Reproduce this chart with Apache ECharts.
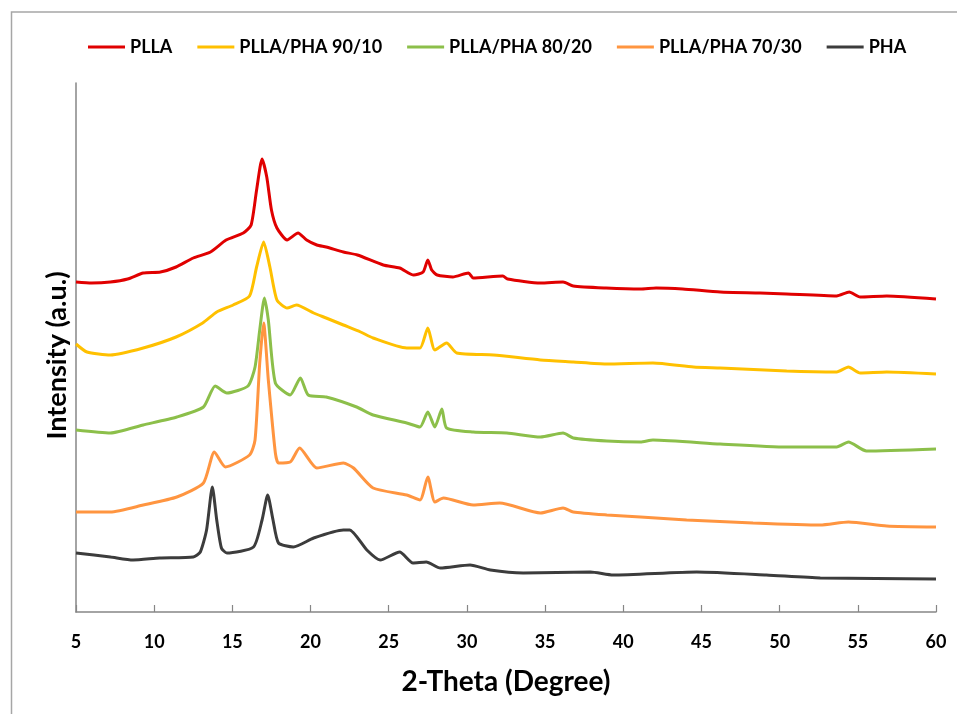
<!DOCTYPE html>
<html>
<head>
<meta charset="utf-8">
<title>XRD</title>
<script src="https://cdn.jsdelivr.net/npm/echarts@6/dist/echarts.min.js"></script>
<style>
  html, body { margin: 0; padding: 0; background: #fff; }
  #main { width: 957px; height: 714px; }
</style>
</head>
<body>
<div id="main"></div>
<script>
// 2-theta positions and intensities (a.u.)
const pllaX = [5, 6, 7.2, 8.3, 9.3, 10.4, 11.4, 12.5, 13.6, 14.6, 15.7, 16.2, 16.55, 16.9, 17.2, 17.5, 17.85, 18.5, 19.2, 19.75, 20.4, 21, 22.1, 23, 24.65, 25.7, 26.6, 27.2, 27.5, 27.75, 28.1, 29.1, 30.1, 30.4, 32.3, 32.6, 34.7, 36.15, 36.8, 38.9, 41.1, 42.1, 43.8, 46.2, 48.75, 50.45, 53.65, 54.45, 55.15, 56.85, 60];
const pllaY = [330, 329, 330, 333, 339, 340, 345, 354, 360, 372, 379, 387, 422, 453, 435, 402, 384, 372, 379, 372, 367, 365, 360, 357, 347, 344, 337, 340, 352, 342, 337, 335, 339, 334, 336, 333, 329, 330, 326, 324, 323, 324, 323, 320, 319, 318, 316, 320, 315, 316, 313];

const p9010X = [5, 5.7, 7.2, 9.3, 11.4, 13.1, 14, 15.05, 16.1, 16.55, 17, 17.4, 17.85, 18.5, 19.1, 20.2, 21, 22.1, 23.2, 24, 26.15, 27, 27.5, 27.95, 28.7, 29.35, 31.7, 34.7, 36.8, 38.9, 41.9, 44.5, 46.2, 50.45, 53.65, 54.4, 55.15, 56.85, 60];
const p9010Y = [268, 260, 257, 264, 275, 289, 300, 307, 316, 345, 370, 345, 312, 304, 307, 299, 294, 287, 280, 274, 264, 264, 284, 262, 269, 259, 257, 252, 250, 248, 249, 245, 244, 241, 240, 245, 239, 240, 238];

const p8020X = [5, 7.2, 9.3, 11.45, 13.15, 13.9, 14.65, 16, 16.45, 16.75, 17.05, 17.3, 17.75, 18.7, 19.35, 19.85, 21, 22.95, 24, 26.15, 27, 27.5, 27.95, 28.4, 28.7, 30.4, 32.55, 34.7, 36.15, 36.8, 38.95, 41.1, 41.9, 46.2, 50.45, 53.65, 54.4, 55.55, 60];
const p8020Y = [182, 179, 187, 195, 205, 226, 219, 226, 245, 282, 314, 292, 229, 217, 234, 217, 215, 205, 197, 189, 185, 200, 185, 203, 184, 180, 179, 175, 179, 174, 171, 170, 172, 168, 165, 165, 170, 161, 163];

const p7030X = [5, 7.2, 9.3, 11.45, 13.15, 13.85, 14.55, 16.1, 16.45, 16.75, 17, 17.3, 17.75, 17.95, 18.7, 19.3, 20.4, 22.1, 22.75, 24, 26.15, 27, 27.5, 27.95, 28.5, 30.4, 32.1, 34.7, 36.15, 36.8, 38.95, 41.1, 44.05, 48.3, 52.6, 54.4, 56.85, 60];
const p7030Y = [100, 100, 107, 115, 129, 160, 145, 157, 172, 249, 289, 232, 159, 149, 150, 164, 144, 149, 144, 124, 117, 112, 135, 110, 114, 107, 109, 99, 104, 100, 97, 95, 92, 89, 87, 90, 86, 85];

const phaX = [5, 7.2, 8.65, 10.35, 12.5, 12.95, 13.35, 13.72, 14, 14.3, 14.65, 16.35, 16.9, 17.26, 17.6, 17.95, 18.9, 20.2, 22.1, 22.5, 23.6, 24.45, 25.7, 26.55, 27.4, 28.3, 30.2, 31.5, 33.6, 37.9, 39.35, 44.7, 49.15, 52.6, 60];
const phaY = [59, 55, 52, 54, 55, 60, 82, 125, 92, 64, 59, 65, 92, 117, 92, 69, 65, 74, 82, 82, 62, 52, 60, 49, 50, 44, 47, 42, 39, 40, 37, 40, 37, 34, 33];

const seriesNames = ['PLLA', 'PLLA/PHA 90/10', 'PLLA/PHA 80/20', 'PLLA/PHA 70/30', 'PHA'];
const seriesColors = ['#e00000', '#ffc000', '#8cbf4a', '#ff9540', '#3c3c3c'];
const seriesX = [pllaX, p9010X, p8020X, p7030X, phaX];
const seriesY = [pllaY, p9010Y, p8020Y, p7030Y, phaY];

const FONT = 'Lato';

function pairs(xs, ys) {
  let out = [];
  for (let i = 0; i < xs.length; i++) {
    out.push([xs[i], ys[i]]);
  }
  return out;
}

const chart = echarts.init(document.getElementById('main'), null, { renderer: 'canvas' });

const option = {
  backgroundColor: '#ffffff',
  animation: false,
  color: seriesColors,
  graphic: [
    {
      type: 'rect',
      shape: { x: 11.5, y: 12, width: 1000, height: 800 },
      style: { fill: 'none', stroke: '#a6a6a6', lineWidth: 1.5 },
      silent: true
    }
  ],
  legend: {
    left: 83,
    top: 33,
    icon: 'rect',
    itemWidth: 37,
    itemHeight: 3,
    itemGap: 25,
    textStyle: { fontFamily: FONT, fontWeight: 'bold', fontSize: 18, color: '#000' },
    data: seriesNames
  },
  grid: { left: 76, right: 21, top: 83, bottom: 102 },
  xAxis: {
    type: 'value',
    min: 5,
    max: 60,
    interval: 5,
    name: '2-Theta (Degree)',
    nameLocation: 'middle',
    nameGap: 56,
    nameTextStyle: { fontFamily: FONT, fontWeight: 'bold', fontSize: 28, color: '#000' },
    axisLine: { lineStyle: { color: '#868686', width: 1.5 } },
    axisTick: { inside: true, length: 7, lineStyle: { color: '#868686', width: 1.2 } },
    axisLabel: { margin: 21, fontFamily: FONT, fontWeight: 'bold', fontSize: 18, color: '#000' },
    splitLine: { show: false }
  },
  yAxis: {
    type: 'value',
    min: 0,
    max: 529,
    name: 'Intensity (a.u.)',
    nameLocation: 'middle',
    nameGap: 5,
    nameTextStyle: { fontFamily: FONT, fontWeight: 'bold', fontSize: 27, color: '#000', padding: [0, 16, 0, 0] },
    axisLine: { show: true, lineStyle: { color: '#868686', width: 1.5 } },
    axisTick: { show: false },
    axisLabel: { show: false },
    splitLine: { show: false }
  },
  series: seriesNames.map((name, i) => ({
    name: name,
    type: 'line',
    data: pairs(seriesX[i], seriesY[i]),
    showSymbol: false,
    smooth: 0.2,
    lineStyle: { width: 3, color: seriesColors[i] },
    itemStyle: { color: seriesColors[i] }
  }))
};

chart.setOption(option);
</script>
</body>
</html>
